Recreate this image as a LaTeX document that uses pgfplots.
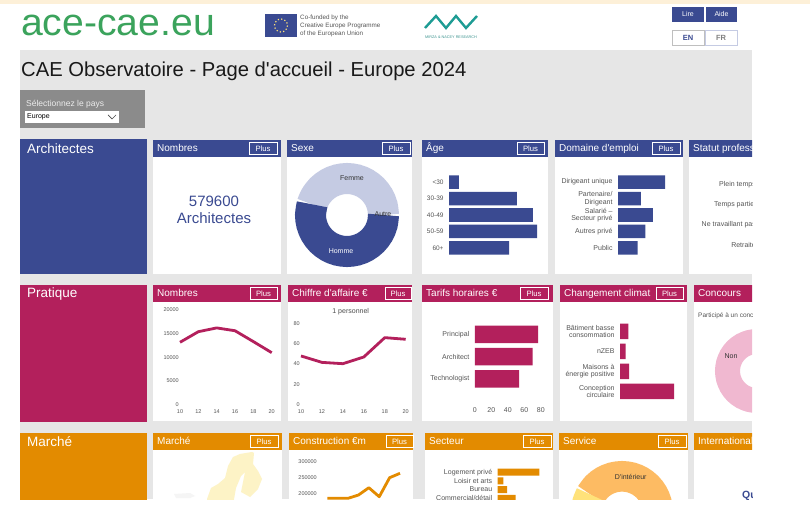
\documentclass[border=0pt]{standalone}
\usepackage{fontspec}
\setmainfont{Liberation Sans}[Ligatures=TeXOff]
\usepackage{pgfplots}
\pgfplotsset{compat=1.18}
\usepgfplotslibrary{polar}
\usepackage{graphicx}

\definecolor{cream}{HTML}{FDF0D8}
\definecolor{page}{HTML}{E6E6E6}
\definecolor{selbg}{HTML}{8B8B8B}
\definecolor{archi}{HTML}{3A4A91}
\definecolor{archilt}{HTML}{C5CBE3}
\definecolor{prat}{HTML}{B3205C}
\definecolor{pratlt}{HTML}{F0B8D0}
\definecolor{marc}{HTML}{E38B00}
\definecolor{marclt}{HTML}{FDBB63}
\definecolor{marcyl}{HTML}{FFE27A}
\definecolor{mapyl}{HTML}{FDF3C6}
\definecolor{teal}{HTML}{1E9C94}
\definecolor{logo}{HTML}{3BA35C}
\definecolor{ticktxt}{HTML}{555555}

\newcommand\fs[1]{\fontsize{#1}{#1}\selectfont}
\newcommand\fsb[2]{\fontsize{#1}{#2}\selectfont}

% x1 x2 ytop ybottom colour title
\newcommand\cardcut[6]{%
  \fill[white] (#1,#3) rectangle (#2,#4);
  \fill[#5] (#1,#3) rectangle (#2,#3+17);
  \node[anchor=base west,inner sep=0,text=white,font=\fs{10}] at (#1+4,#3+11.6) {#6};
}
% same, with the Plus button: plus-x1 plus-x2
\newcommand\card[8]{%
  \cardcut{#1}{#2}{#3}{#4}{#5}{#6}
  \draw[white,line width=.5pt] (#7,#3+2.5) rectangle (#8,#3+14.5);
  \node[text=white,font=\fs{7.7}] at ({(#7+#8)/2},#3+8.5) {Plus};
}

\pgfplotsset{
  mini/.style={scale only axis,clip=false,axis line style={draw=none},tick style={draw=none},
    tick label style={font=\fs{6.5},text=ticktxt},
    /pgf/number format/fixed,/pgf/number format/assume math mode=true,/pgf/number format/set thousands separator={}},
  hbars/.style={mini,xbar,y dir=reverse,xmin=0,xtick=\empty,ytick=data,
    yticklabel style={align=right,inner sep=1pt,font=\fsb{7}{7.5}}},
  trend/.style={mini,scaled ticks=false,
    tick label style={font=\fs{5.5},text=ticktxt,inner sep=1pt},
    xticklabel style={yshift=-4pt}},
  ring/.style={scale only axis,hide axis,clip=false,anchor=center,xmin=0,xmax=360,ymin=0},
  slice/.style={no markers,smooth,tension=.55,line join=miter},
}

\begin{document}
\begin{tikzpicture}[x=1pt,y=1pt]
\useasboundingbox (0,0) rectangle (810,514);
\fill[cream] (0,510) rectangle (810,514);
\begin{scope}
\clip (20,15) rectangle (752,510);

% page chrome, y counted from the top
\begin{scope}[shift={(0,514)},y=-1pt]
\fill[page] (20,50) rectangle (752,499);

\node[anchor=base west,inner sep=0,text=logo,font=\fs{38}] at (21,36) {\scalebox{1.03}[1]{ace-cae.eu}};
\fill[archi] (265,14) rectangle (297,37);
\draw[marcyl,line width=1.2pt,dash pattern=on 1.2pt off 2.2pt] (281,25.5) circle (6.5);
\node[anchor=north west,inner sep=0,text=ticktxt,align=left,font=\fsb{6.3}{8}] at (300,15) {Co-funded by the\\Creative Europe Programme\\of the European Union};
\draw[teal,line width=2.4pt] (425,28)--(436,16)--(446,28)--(456,16)--(466,28)--(477,16);
\node[text=teal!70!gray,font=\fs{3.8}] at (451,37) {MIRZA \& NACEY RESEARCH};

\fill[archi] (672,7) rectangle (704,22);
\fill[archi] (706,7) rectangle (737,22);
\node[text=white,font=\fs{7}] at (688,14.5) {Lire};
\node[text=white,font=\fs{7}] at (721.5,14.5) {Aide};
\draw[gray!50,fill=white] (672.5,30.5) rectangle (704,45);
\draw[archilt,line width=.8pt,fill=white] (705.5,30.5) rectangle (737,45);
\node[text=archi,font=\fs{7.5}\bfseries] at (688,38) {EN};
\node[text=gray,font=\fs{7.5}\bfseries] at (721,38) {FR};

\node[anchor=west,inner sep=0,text=black!90,font=\fs{20.2}] at (21,71) {CAE Observatoire - Page d'accueil - Europe 2024};

\fill[selbg] (20,90) rectangle (145,128);
\node[anchor=west,inner sep=0,text=white!85!gray,font=\fs{8.5}] at (26,104) {Sélectionnez le pays};
\fill[white] (25,111) rectangle (119,123);
\node[anchor=west,inner sep=0,text=black,font=\fs{7}] at (27,117) {Europe};
\draw[black!70,line width=.7pt] (108,115)--(112,119)--(116,115);

% row 1
\fill[archi] (20,139) rectangle (147,274);
\node[anchor=west,inner sep=0,text=white,font=\fs{13.5}] at (27,149) {Architectes};
\card{153}{281}{140}{274}{archi}{Nombres}{249}{277}
\card{287}{412}{140}{274}{archi}{Sexe}{382}{410}
\card{422}{548}{140}{274}{archi}{Âge}{517}{544}
\card{555}{683}{140}{274}{archi}{Domaine d'emploi}{652}{680}
\cardcut{689}{760}{140}{274}{archi}{Statut professionnel}

% row 2
\fill[prat] (20,285) rectangle (147,422);
\node[anchor=west,inner sep=0,text=white,font=\fs{13.5}] at (27,294) {Pratique};
\card{153}{281}{285}{421}{prat}{Nombres}{250}{277}
\card{288}{412}{285}{421}{prat}{Chiffre d'affaire €}{385}{411}
\card{422}{553}{285}{421}{prat}{Tarifs horaires €}{520}{548}
\card{560}{687}{285}{421}{prat}{Changement climat}{656}{683}
\cardcut{694}{760}{285}{421}{prat}{Concours}

% row 3
\fill[marc] (20,433) rectangle (147,505);
\node[anchor=west,inner sep=0,text=white,font=\fs{13.5}] at (27,442) {Marché};
\card{153}{282}{433}{505}{marc}{Marché}{250}{278}
\card{289}{413}{433}{505}{marc}{Construction €m}{386}{413}
\card{425}{553}{433}{505}{marc}{Secteur}{523}{551}
\card{559}{688}{433}{505}{marc}{Service}{658}{686}
\cardcut{694}{760}{433}{505}{marc}{Internationale}
\end{scope}

% Sexe: 45% femme, 55% homme, trace autre
\begin{polaraxis}[ring,at={(347pt,299pt)},width=104pt,height=104pt,ymax=52]
\addplot[archilt,line width=31pt,slice] coordinates {(0,36.5)(15,36.5)(30,36.5)(45,36.5)(60,36.5)(75,36.5)(90,36.5)(105,36.5)(120,36.5)(135,36.5)(150,36.5)(163,36.5)};
\addplot[archi,line width=31pt,slice] coordinates {(163,36.5)(180,36.5)(195,36.5)(210,36.5)(225,36.5)(240,36.5)(255,36.5)(270,36.5)(285,36.5)(300,36.5)(315,36.5)(330,36.5)(345,36.5)(360,36.5)};
\end{polaraxis}

\begin{axis}[hbars,at={(449pt,257.75pt)},anchor=south west,width=88pt,height=82.5pt,
  xmax=28.4,ymin=-0.5,ymax=4.5,bar width=13.5pt,yticklabels={<30,30-39,40-49,50-59,60+},
  yticklabel style={font=\fs{6.5}}]
\addplot[fill=archi,draw=none] coordinates {(3.2,0)(21.9,1)(27.1,2)(28.4,3)(19.4,4)};
\end{axis}

\begin{axis}[hbars,at={(618pt,257.75pt)},anchor=south west,width=47pt,height=82.5pt,
  xmax=31,ymin=-0.5,ymax=4.5,bar width=13.5pt,
  yticklabels={Dirigeant unique,Partenaire/\\Dirigeant,Salarié –\\Secteur privé,Autres privé,Public}]
\addplot[fill=archi,draw=none] coordinates {(31,0)(15,1)(23,2)(18,3)(13,4)};
\end{axis}

\begin{axis}[trend,at={(180pt,109.7pt)},anchor=south west,width=91.7pt,height=94.3pt,
  xmin=10,xmax=20,ymin=0,ymax=20000,xtick={10,12,...,20},ytick={0,5000,...,20000}]
\addplot[prat,line width=2.8pt,line join=round,no markers] coordinates {(10,13150)(12,15400)(14,16200)(16,15600)(18,13300)(20,10950)};
\end{axis}

\begin{axis}[trend,at={(301pt,109.3pt)},anchor=south west,width=104.7pt,height=81.4pt,
  xmin=10,xmax=20,ymin=0,ymax=80,xtick={10,12,...,20},ytick={0,20,...,80}]
\addplot[prat,line width=2.8pt,line join=round,no markers] coordinates {(10,47.9)(12,41.6)(14,40.3)(16,46.9)(18,65.9)(20,64.3)};
\end{axis}

\begin{axis}[hbars,at={(474.8pt,110pt)},anchor=south west,width=66pt,height=80.9pt,
  xmax=80,ymin=-0.5,ymax=3.12,bar width=17.5pt,xtick={0,20,...,80},
  yticklabels={Principal,Architect,Technologist},
  xticklabel style={font=\fs{7}}]
\addplot[fill=prat,draw=none] coordinates {(76.8,0)(70,1)(53.7,2)};
\end{axis}

\begin{axis}[hbars,at={(620pt,112.7pt)},anchor=south west,width=54pt,height=80pt,
  xmax=54,ymin=-0.5,ymax=3.5,bar width=15.5pt,
  yticklabels={Bâtiment basse\\consommation,nZEB,Maisons à\\énergie positive,Conception\\circulaire}]
\addplot[fill=prat,draw=none] coordinates {(8.3,0)(5.7,1)(9,2)(54,3)};
\end{axis}

% Concours: only the left part of the ring is on the page
\begin{polaraxis}[ring,at={(757pt,143pt)},width=84pt,height=84pt,ymax=42]
\addplot[pratlt,line width=25pt,slice] coordinates {(60,29.5)(75,29.5)(90,29.5)(105,29.5)(120,29.5)(135,29.5)(150,29.5)(165,29.5)(180,29.5)(195,29.5)(210,29.5)(225,29.5)(240,29.5)(255,29.5)(270,29.5)(285,29.5)(300,29.5)};
\end{polaraxis}

% carte: pixel coordinates of the outline
\begin{axis}[scale only axis,hide axis,at={(153pt,4pt)},anchor=south west,width=129pt,height=59pt,
  xmin=153,xmax=282,ymin=451,ymax=510,y dir=reverse,clip=false]
\addplot[fill=mapyl,draw=none] coordinates {(252,452)(240,454)(233,457)(228,466)(225,478)(218,484)(211,488)(207,499)(207,505)(233,505)(236,488)(241,476)(245,472)(243,482)(241,492)(250,497)(258,489)(262,479)(258,471)(253,464)(254,453)} --cycle;
\addplot[fill=black!4,draw=none] coordinates {(174,494)(190,493)(195,496)(190,498)(176,498)} --cycle;
\end{axis}

\begin{axis}[trend,at={(318pt,-42.5pt)},anchor=south west,width=82pt,height=94.8pt,
  xmin=-0.9,xmax=7,ymin=0,ymax=300000,xtick=\empty,ytick={200000,250000,300000}]
\addplot[marc,line width=2.8pt,line join=round,no markers] coordinates {(0,184200)(1,184200)(2,184200)(3,194600)(4,217700)(5,189200)(6,249400)(7,263300)};
\end{axis}

\begin{axis}[hbars,at={(497.7pt,11.35pt)},anchor=south west,width=41.7pt,height=34.8pt,
  xmax=41.7,ymin=-0.5,ymax=3.5,bar width=7pt,
  yticklabels={Logement privé,Loisir et arts,Bureau,Commercial/détail}]
\addplot[fill=marc,draw=none] coordinates {(41.7,0)(5.7,1)(9.3,2)(18,3)};
\end{axis}

% Service
\begin{polaraxis}[ring,at={(622pt,2pt)},width=102pt,height=102pt,ymax=51]
\addplot[marclt,line width=30.6pt,slice] coordinates {(-30,35.7)(-15,35.7)(0,35.7)(15,35.7)(30,35.7)(45,35.7)(60,35.7)(75,35.7)(90,35.7)(105,35.7)(120,35.7)(135,35.7)(151,35.7)};
\addplot[marcyl,line width=30.6pt,slice] coordinates {(151,35.7)(165,35.7)(180,35.7)(195,35.7)(210,35.7)};
\end{polaraxis}

% text over the charts
\begin{scope}[shift={(0,514)},y=-1pt]
\node[align=center,text=archi,font=\fsb{15}{17}] at (214,209.5) {579600\\Architectes};
\node[font=\fs{7},text=black!80] at (352,178) {Femme};
\node[font=\fs{7},text=black!80] at (383,214) {Autre};
\node[font=\fs{7},text=white] at (341,251) {Homme};
\foreach \yy/\tt in {185/Plein temps,205/Temps partiel,225/Ne travaillant pas,245/Retraité}
  \node[anchor=east,inner sep=0,font=\fs{7},text=ticktxt] at (756,\yy) {\tt};
\node[font=\fs{7},text=black!70] at (350.7,312) {1 personnel};
\node[anchor=west,inner sep=0,font=\fs{6.5},text=ticktxt] at (698,316) {Participé à un concours};
\node[font=\fs{7},text=black!80] at (731,356) {Non};
\node[font=\fs{7},text=black!80] at (630.7,477) {D'intérieur};
\node[anchor=west,inner sep=0,font=\fs{10.5}\bfseries,text=archi] at (742,496) {Qu};
\end{scope}
\end{scope}
\end{tikzpicture}
\end{document}
